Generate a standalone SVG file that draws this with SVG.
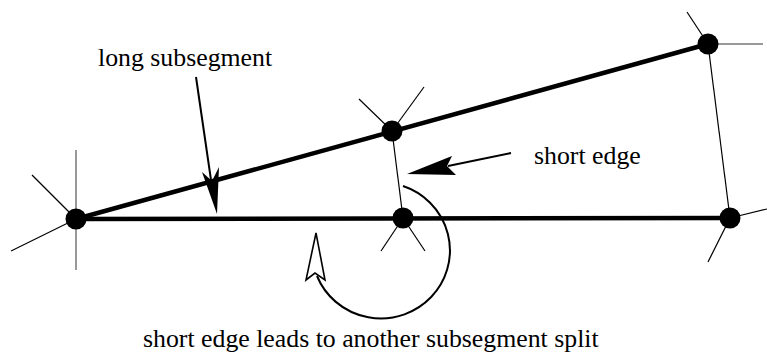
<svg xmlns="http://www.w3.org/2000/svg" width="767" height="352" viewBox="0 0 767 352">
<style>
text{font-family:'Liberation Serif','DejaVu Serif',serif;font-size:25.8px;fill:#000}
.thick{stroke:#000;stroke-width:4.5;fill:none}
.thin{stroke:#000;stroke-width:1.2;fill:none}
.gray{stroke:#777;stroke-width:1.5;fill:none}
.node{fill:#000}
</style>
<rect width="767" height="352" fill="#fff"/>
<g id="connectors">
<line class="thick" x1="76" y1="219" x2="708" y2="44"/>
<line class="thick" x1="76" y1="219" x2="730" y2="218"/>
<line class="thin" x1="392" y1="131" x2="403" y2="218"/>
<line class="thin" x1="708" y1="44" x2="730" y2="218"/>
<line class="gray" x1="76" y1="150" x2="76" y2="270"/>
<line class="thin" x1="32" y1="175" x2="76" y2="219"/>
<line class="thin" x1="11" y1="251" x2="76" y2="219"/>
<line class="thin" x1="359" y1="99" x2="392" y2="131"/>
<line class="thin" x1="424" y1="87" x2="392" y2="131"/>
<line class="thin" x1="381" y1="251" x2="403" y2="218"/>
<line class="thin" x1="425" y1="251" x2="403" y2="218"/>
<line class="thin" x1="687" y1="12" x2="708" y2="44"/>
<line class="gray" x1="763" y1="44" x2="708" y2="44"/>
<line class="thin" x1="767" y1="209" x2="730" y2="218"/>
<line class="thin" x1="708" y1="262" x2="730" y2="218"/>
<line stroke="#000" stroke-width="2" x1="196" y1="77" x2="211" y2="180"/>
<path d="M217 214 L202 172 L212 181 L219 167 Z" fill="#000"/>
<line stroke="#000" stroke-width="2" x1="511" y1="153" x2="448" y2="166"/>
<path d="M407 174 L452 156 L447 166 L456 175 Z" fill="#000"/>
<path d="M403 186 A69 68 0 1 1 317 276" stroke="#000" stroke-width="2" fill="none"/>
<path d="M316 233 L325 280 L315 273 L306 280 Z" fill="#fff" stroke="#000" stroke-width="1.6"/>
</g>
<g id="n1"><circle class="node" cx="76" cy="219" r="10.5"/></g>
<g id="n2"><circle class="node" cx="392" cy="131" r="10.5"/></g>
<g id="n3"><circle class="node" cx="403" cy="218" r="10.5"/></g>
<g id="n4"><circle class="node" cx="708" cy="44" r="10.5"/></g>
<g id="n5"><circle class="node" cx="730" cy="218" r="10.5"/></g>
<g id="labels">
<text x="98" y="66" font-family="Liberation Serif, serif">long subsegment</text>
<text x="534" y="164" font-family="Liberation Serif, serif">short edge</text>
<text x="143" y="347" font-family="Liberation Serif, serif">short edge leads to another subsegment split</text>
</g>
</svg>
